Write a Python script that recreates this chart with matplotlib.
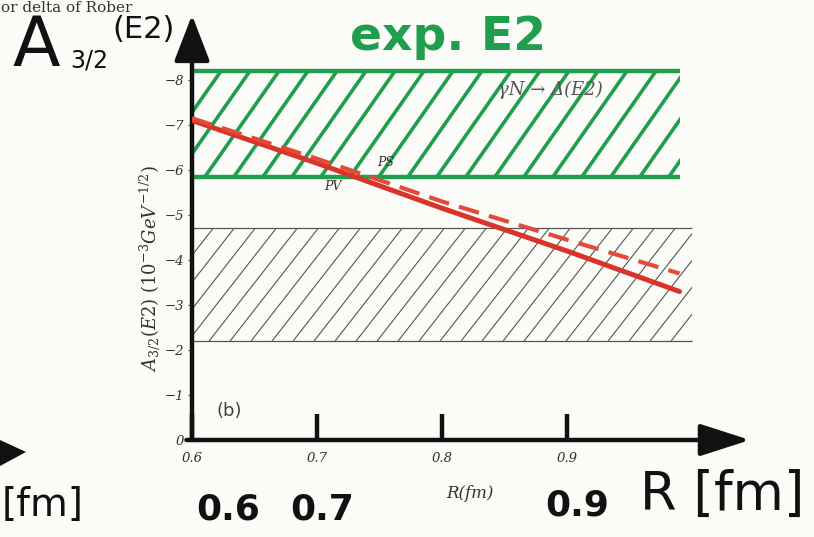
import numpy as np
import matplotlib
matplotlib.use("Agg")
import matplotlib.pyplot as plt
from matplotlib.patches import Rectangle, Polygon

# ---------------- data ----------------
R_points = [0.6, 0.7, 0.8, 0.9, 0.99]
A_solid = [-7.1, -6.15, -5.15, -4.2, -3.3]     # red solid curve
A_dashed = [-7.15, -6.25, -5.3, -4.45, -3.7]   # red dashed curve
exp_band = (-8.2, -5.85)      # green hatched band (experiment)
exp_band_R = (0.6, 0.99)
gray_band = (-4.7, -2.2)      # printed grey hatched band
gray_band_R = (0.6, 1.0)
x_ticks = [0.6, 0.7, 0.8, 0.9]
x_ticklabels = ["0.6", "0.7", "0.8", "0.9"]
y_ticks = [0, -1, -2, -3, -4, -5, -6, -7, -8]
y_ticklabels = ["0", "\u22121", "\u22122", "\u22123", "\u22124", "\u22125", "\u22126", "\u22127", "\u22128"]

W, H = 814, 537
fig = plt.figure(figsize=(W / 100, H / 100), dpi=100)
fig.patch.set_facecolor("#fbfbf8")

def fx(px):
    return px / W

def fy(py):
    return 1 - py / H

ax = fig.add_axes([fx(192), fy(440), fx(750) - fx(192), fy(15) - fy(440)])
ax.set_facecolor("none")
ax.set_xlim(0.6, 1.0464)
ax.set_ylim(0, -9.444)
for s in ["top", "right", "left", "bottom"]:
    ax.spines[s].set_visible(False)

green = "#1f9e4e"
serif_it = dict(family="DejaVu Serif", style="italic")


def hatch_band(x0, x1, ylo, yhi, spacing_px, angle_deg, color, lw, edge_lw):
    rect = Rectangle((x0, min(ylo, yhi)), x1 - x0, abs(yhi - ylo),
                     transform=ax.transData, fill=False, lw=0)
    ax.add_patch(rect)
    xl = ax.get_xlim()
    yl = ax.get_ylim()
    sx = ax.bbox.width / (xl[1] - xl[0])
    sy = ax.bbox.height / abs(yl[1] - yl[0])
    bottom_v = max(ylo, yhi)   # visually lower (closer to 0)
    top_v = min(ylo, yhi)
    h_px = abs(yhi - ylo) * sy
    dx_data = h_px / np.tan(np.radians(angle_deg)) / sx
    step = spacing_px / sx
    for s in np.arange(x0 - dx_data, x1 + step, step):
        ln, = ax.plot([s, s + dx_data], [bottom_v, top_v], color=color, lw=lw,
                      solid_capstyle="round")
        ln.set_clip_path(rect)
    ax.hlines([ylo, yhi], x0, x1, colors=color, lw=edge_lw)


# grey printed band
hatch_band(gray_band_R[0], gray_band_R[1], gray_band[0], gray_band[1],
           21, 52, "#555555", 0.8, 0.9)
# green experimental band
hatch_band(exp_band_R[0], exp_band_R[1], exp_band[0], exp_band[1],
           29, 55, green, 2.6, 3.2)

# red curves
ax.plot(R_points, A_solid, color="#d8342a", lw=3.6, solid_capstyle="round", zorder=5)
ax.plot(R_points, A_dashed, color="#e24a3a", lw=3.0, ls=(0, (5, 2.5)), zorder=5)

# ticks
ax.set_xticks(x_ticks)
ax.set_xticklabels(x_ticklabels, fontsize=9.5, color="#333333", **serif_it)
ax.tick_params(axis="x", direction="in", length=19, width=3.2, color="#111111", pad=9)
ax.set_yticks(y_ticks)
ax.set_yticklabels(y_ticklabels, fontsize=9.5, color="#333333", **serif_it)
ax.tick_params(axis="y", direction="out", length=3, width=0.8, color="#444444", pad=3)

# hand-drawn axes with arrows
ax.annotate("", xy=(0, 1.0), xytext=(0, 0), xycoords="axes fraction",
            arrowprops=dict(arrowstyle="-|>,head_width=0.5,head_length=1.3",
                            lw=3.2, color="#111111", mutation_scale=22,
                            shrinkA=0, shrinkB=0), annotation_clip=False)
ax.annotate("", xy=(1.0, 0), xytext=(-0.01, 0), xycoords="axes fraction",
            arrowprops=dict(arrowstyle="-|>,head_width=0.45,head_length=1.4",
                            lw=3.2, color="#111111", mutation_scale=22,
                            shrinkA=0, shrinkB=0), annotation_clip=False)

# printed texts
fig.text(fx(150), fy(268), r"$A_{3/2}(E2)\ (10^{-3}GeV^{-1/2})$", rotation=90,
         ha="center", va="center", fontsize=13, color="#333333",
         math_fontfamily="dejavuserif")
fig.text(fx(470), fy(494), "R(fm)", ha="center", va="center", fontsize=12,
         color="#333333", **serif_it)
fig.text(fx(550), fy(90), "\u03b3N \u2192 \u0394(E2)", ha="center", va="center",
         fontsize=13, color="#555555", **serif_it)
fig.text(fx(229), fy(411), "(b)", ha="center", va="center", fontsize=13,
         color="#444444", family="DejaVu Sans")
fig.text(fx(333), fy(186), "PV", ha="center", va="center", fontsize=9,
         color="#333333", **serif_it)
fig.text(fx(386), fy(163), "PS", ha="center", va="center", fontsize=9,
         color="#333333", **serif_it)
fig.text(fx(1), fy(1), "or delta of Rober", ha="left", va="top", fontsize=11,
         color="#333333", family="DejaVu Serif")

# handwritten annotations
fig.text(fx(448), fy(37), "exp. E2", ha="center", va="center", fontsize=34,
         fontweight="bold", color=green, family="DejaVu Sans")
fig.text(fx(12), fy(46), "A", ha="left", va="center", fontsize=50,
         color="#111111", family="DejaVu Sans")
fig.text(fx(70), fy(60), "3/2", ha="left", va="center", fontsize=17,
         color="#111111", family="DejaVu Sans")
fig.text(fx(112), fy(30), "(E2)", ha="left", va="center", fontsize=22,
         color="#111111", family="DejaVu Sans")
fig.text(fx(228), fy(510), "0.6", ha="center", va="center", fontsize=26,
         fontweight="bold", color="#111111", family="DejaVu Sans")
fig.text(fx(322), fy(510), "0.7", ha="center", va="center", fontsize=26,
         fontweight="bold", color="#111111", family="DejaVu Sans")
fig.text(fx(577), fy(505), "0.9", ha="center", va="center", fontsize=26,
         fontweight="bold", color="#111111", family="DejaVu Sans")
fig.text(fx(722), fy(495), "R [fm]", ha="center", va="center", fontsize=38,
         color="#111111", family="DejaVu Sans")
fig.text(fx(2), fy(505), "[fm]", ha="left", va="center", fontsize=28,
         color="#111111", family="DejaVu Sans")
# partial arrow head of neighbouring figure at the left edge
fig.patches.append(Polygon([[fx(0), fy(440)], [fx(26), fy(452)], [fx(0), fy(466)]],
                           closed=True, transform=fig.transFigure,
                           facecolor="#111111", edgecolor="none"))

fig.savefig("out.png", dpi=100, facecolor=fig.get_facecolor())
